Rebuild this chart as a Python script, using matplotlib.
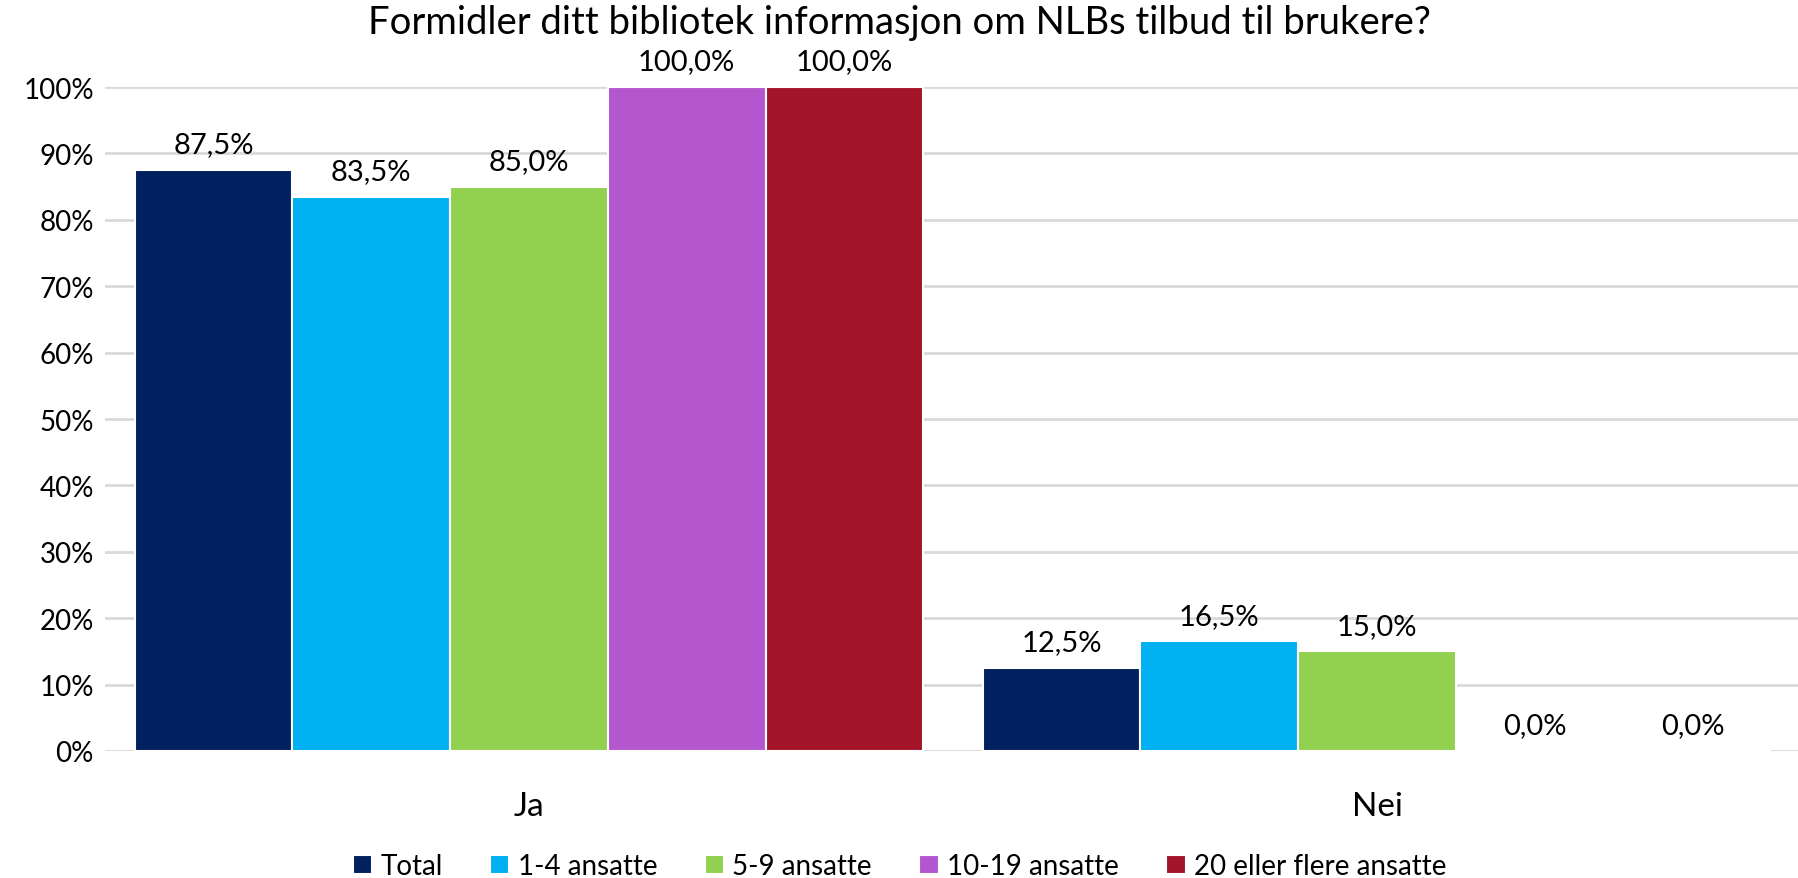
import numpy as np
import matplotlib.pyplot as plt
from matplotlib.ticker import PercentFormatter

# --------------------------- Data ---------------------------
categories = ['Ja', 'Nei']
series_names = ['Total', '1-4 ansatte', '5-9 ansatte', '10-19 ansatte', '20 eller flere ansatte']
total = [87.5, 12.5]
ansatte_1_4 = [83.5, 16.5]
ansatte_5_9 = [85.0, 15.0]
ansatte_10_19 = [100.0, 0.0]
ansatte_20_plus = [100.0, 0.0]
values = [total, ansatte_1_4, ansatte_5_9, ansatte_10_19, ansatte_20_plus]
colors = ['#002060', '#00B0F0', '#92D050', '#B457CF', '#A31429']
title = 'Formidler ditt bibliotek informasjon om NLBs tilbud til brukere?'

plt.rcParams['font.family'] = ['Lato', 'DejaVu Sans']

# --------------------------- Plot ---------------------------
fig = plt.figure(figsize=(17.99, 8.79), dpi=100)
ax = fig.add_axes([105 / 1799, 1 - 752 / 879, 1696 / 1799, (752 - 88) / 879])

x = np.arange(len(categories))
bar_w = 0.186
for i, (name, vals, col) in enumerate(zip(series_names, values, colors)):
    pos = x + (i - 2) * bar_w
    bars = ax.bar(pos, vals, width=bar_w, color=col, edgecolor='white',
                  linewidth=1.5, label=name, zorder=3)
    for b, v in zip(bars, vals):
        ax.annotate(f'{v:.1f}%'.replace('.', ','), (b.get_x() + b.get_width() / 2, v),
                    xytext=(0, 18.5), textcoords='offset points', ha='center',
                    va='center', fontsize=21)

ax.set_xlim(-0.5, 1.5)
ax.set_ylim(0, 100)
ax.set_yticks(np.arange(0, 101, 10))
ax.yaxis.set_major_formatter(PercentFormatter(decimals=0))
ax.set_xticks(x)
ax.set_xticklabels(categories, fontsize=24)
ax.tick_params(axis='x', length=0, pad=29)
ax.tick_params(axis='y', length=0, labelsize=20, pad=8)
ax.grid(axis='y', color='#D9D9D9', linewidth=2, zorder=0)
for s in ax.spines.values():
    s.set_visible(False)

fig.text(0.5, 1 - 23 / 879, title, fontsize=27.5, ha='center', va='center')
fig.legend(loc='lower center', ncol=5, frameon=False, fontsize=20,
           handlelength=0.7, handleheight=0.7, handletextpad=0.3,
           columnspacing=1.7, bbox_to_anchor=(0.5, -0.03))

fig.savefig('out.png', dpi=100)
